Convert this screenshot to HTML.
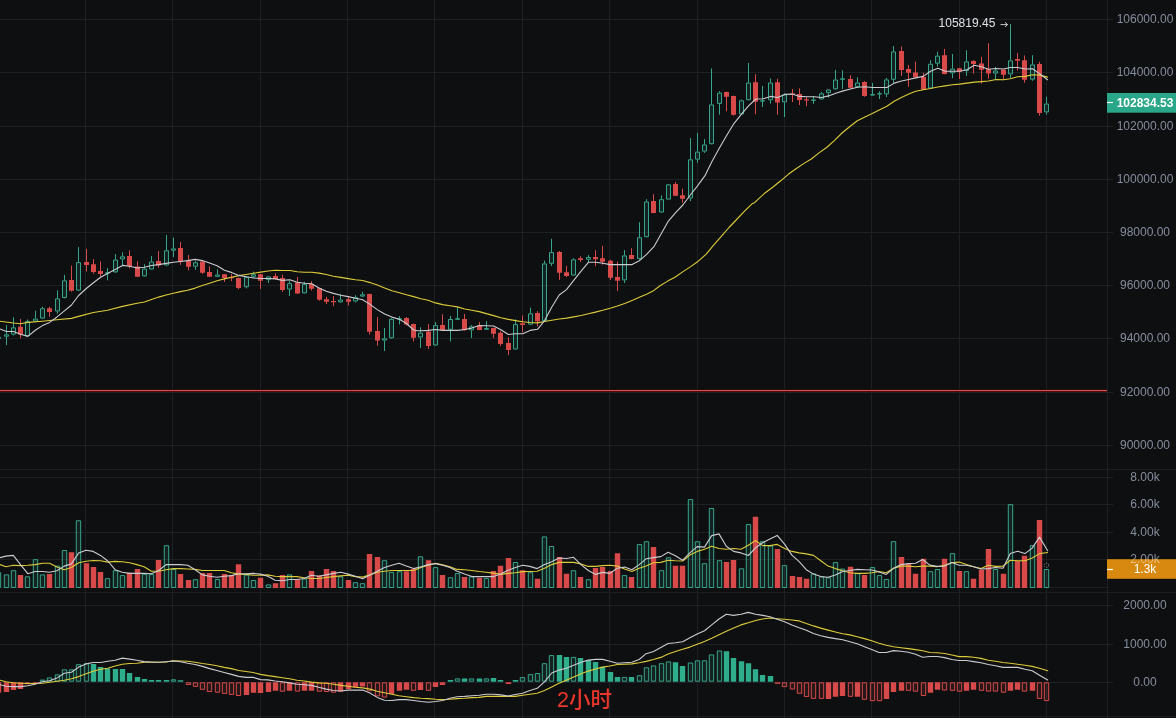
<!DOCTYPE html><html><head><meta charset="utf-8"><title>chart</title><style>
html,body{margin:0;padding:0;background:#0e0f11;overflow:hidden}
svg{display:block}text{font-family:"Liberation Sans","Noto Sans CJK SC",sans-serif}
.ax{font-size:12px;fill:#878d9c;text-anchor:middle}
</style></head><body>
<svg width="1176" height="718" viewBox="0 0 1176 718">
<rect width="1176" height="718" fill="#0e0f11"/>
<path d="M85.5 0V718M172.5 0V718M260.5 0V718M347.5 0V718M434.5 0V718M522.5 0V718M609.5 0V718M697.5 0V718M784.5 0V718M871.5 0V718M959.5 0V718M1046.5 0V718M1107.5 0V718M0 19.5H1113M0 72.5H1113M0 126.5H1113M0 179.5H1113M0 232.5H1113M0 285.5H1113M0 338.5H1113M0 392.5H1113M0 445.5H1113M0 477.5H1113M0 504.5H1113M0 532.5H1113M0 559.5H1113M0 605.5H1113M0 644.5H1113M0 682.5H1113" stroke="#1e2024" stroke-width="1" fill="none"/>
<path d="M0 469.5H1176M0 592.5H1176M0 716.5H1176M0 587.5H1107" stroke="#1c1e22" stroke-width="1" fill="none"/>
<rect x="0" y="389" width="1107" height="1" fill="#2a0b0c"/><rect x="0" y="390" width="1107" height="1" fill="#c9555a"/><rect x="0" y="391" width="1107" height="1" fill="#600808"/>
<path d="M-1.50 336.5V336.8M-1.50 339.0V340.0M6.50 325.1V334.3M6.50 336.7V345.1M13.50 317.2V327.3M13.50 334.6V335.5M27.50 319.5V321.1M27.50 336.0V336.4M35.50 310.6V318.6M35.50 321.6V321.6M42.50 306.8V308.2M42.50 318.6V319.0M57.50 290.3V298.4M57.50 311.5V313.7M64.50 274.9V280.3M64.50 298.1V298.4M78.50 247.1V262.1M78.50 290.6V291.1M107.50 268.0V272.3M107.50 273.7V280.3M115.50 254.1V259.5M115.50 272.3V272.9M122.50 252.3V256.3M122.50 259.5V265.0M144.50 264.2V268.6M144.50 276.4V276.8M151.50 255.9V261.5M151.50 269.5V269.8M166.50 235.0V250.3M166.50 265.5V266.3M173.50 237.6V248.4M173.50 250.7V257.1M195.50 261.1V262.3M195.50 266.7V269.8M217.50 269.3V274.5M217.50 276.8V277.1M246.50 275.9V276.8M246.50 287.2V288.4M253.50 271.6V274.2M253.50 276.8V277.6M268.50 275.9V276.4M268.50 280.3V282.9M289.50 280.9V283.2M289.50 289.6V296.0M304.50 281.8V283.8M304.50 293.4V293.6M340.50 293.9V299.5M340.50 302.3V303.0M355.50 295.2V297.1M355.50 301.4V302.3M362.50 291.7V294.3M362.50 296.6V297.1M384.50 327.9V338.3M384.50 340.6V351.0M391.50 318.0V318.8M391.50 338.3V338.8M399.50 316.2V318.3M399.50 319.7V324.4M420.50 327.3V332.6M420.50 337.4V347.9M435.50 322.0V325.1M435.50 345.5V345.8M450.50 315.9V319.0M450.50 329.8V341.5M457.50 307.2V318.2M457.50 319.7V319.7M471.50 325.0V326.4M471.50 330.4V338.0M486.50 321.1V328.1M486.50 329.8V329.8M515.50 319.4V324.1M515.50 349.5V349.8M530.50 307.7V313.3M530.50 324.6V325.1M544.50 260.6V263.4M544.50 321.1V321.5M551.50 238.8V252.1M551.50 263.7V266.0M573.50 258.2V259.3M573.50 275.5V275.8M588.50 255.1V257.0M588.50 259.7V262.0M624.50 250.1V255.4M624.50 280.4V283.0M639.50 222.2V237.2M639.50 259.0V259.7M646.50 199.2V201.5M646.50 237.2V237.5M661.50 195.4V199.2M661.50 212.5V213.0M668.50 184.0V184.3M668.50 199.6V199.6M690.50 138.0V159.3M690.50 198.5V201.1M697.50 133.0V151.6M697.50 159.8V162.8M704.50 139.1V144.4M704.50 151.6V152.9M711.50 68.4V104.4M711.50 144.3V144.6M719.50 91.1V92.6M719.50 103.9V114.7M741.50 99.5V100.3M741.50 114.4V114.7M748.50 63.0V82.6M748.50 100.3V100.6M762.50 86.0V100.3M762.50 101.3V107.0M770.50 78.4V82.5M770.50 100.3V103.6M784.50 93.4V94.4M784.50 102.4V117.0M813.50 95.9V99.5M813.50 100.5V103.9M821.50 92.1V93.3M821.50 99.5V99.8M828.50 89.0V89.5M828.50 93.2V97.5M835.50 69.9V79.5M835.50 89.3V89.8M842.50 70.3V78.3M842.50 79.8V89.0M857.50 77.2V82.5M857.50 87.0V87.5M872.50 82.9V94.1M872.50 95.6V95.9M879.50 91.3V93.2M879.50 94.4V99.0M886.50 77.9V79.4M886.50 94.4V97.0M893.50 46.1V51.4M893.50 79.8V83.3M930.50 60.2V63.7M930.50 88.5V89.0M937.50 51.7V55.6M937.50 63.7V66.7M952.50 54.0V68.6M952.50 73.3V78.2M966.50 50.2V61.4M966.50 71.0V75.9M995.50 67.0V70.5M995.50 73.6V79.0M1010.50 24.1V60.3M1010.50 74.4V78.2M1032.50 55.2V64.4M1032.50 79.7V80.8M1046.50 96.6V103.5M1046.50 112.4V114.5" stroke="#37a589" stroke-width="1" fill="none"/>
<path d="M-3.50 337.3h4.0v1.2h-4.0zM4.50 334.8h4.0v1.4h-4.0zM11.50 327.8h4.0v6.3h-4.0zM25.50 321.6h4.0v14.0h-4.0zM33.50 319.1h4.0v2.0h-4.0zM40.50 308.7h4.0v9.4h-4.0zM55.50 298.9h4.0v12.1h-4.0zM62.50 280.8h4.0v16.7h-4.0zM76.50 262.6h4.0v27.5h-4.0zM105.50 272.8h4.0v0.4h-4.0zM113.50 260.0h4.0v11.9h-4.0zM120.50 256.8h4.0v2.1h-4.0zM142.50 269.1h4.0v6.8h-4.0zM149.50 262.0h4.0v7.0h-4.0zM164.50 250.8h4.0v14.1h-4.0zM171.50 248.9h4.0v1.3h-4.0zM193.50 262.8h4.0v3.4h-4.0zM215.50 275.0h4.0v1.3h-4.0zM244.50 277.3h4.0v9.4h-4.0zM251.50 274.7h4.0v1.6h-4.0zM266.50 276.9h4.0v2.8h-4.0zM287.50 283.7h4.0v5.4h-4.0zM302.50 284.3h4.0v8.6h-4.0zM338.50 300.0h4.0v1.8h-4.0zM353.50 297.6h4.0v3.4h-4.0zM360.50 294.8h4.0v1.3h-4.0zM382.50 338.8h4.0v1.3h-4.0zM389.50 319.3h4.0v18.5h-4.0zM397.50 318.8h4.0v0.4h-4.0zM418.50 333.1h4.0v3.9h-4.0zM433.50 325.6h4.0v19.4h-4.0zM448.50 319.5h4.0v9.8h-4.0zM455.50 318.7h4.0v0.6h-4.0zM469.50 326.9h4.0v3.0h-4.0zM484.50 328.6h4.0v0.7h-4.0zM513.50 324.6h4.0v24.4h-4.0zM528.50 313.8h4.0v10.3h-4.0zM542.50 263.9h4.0v56.8h-4.0zM549.50 252.6h4.0v10.7h-4.0zM571.50 259.8h4.0v15.2h-4.0zM586.50 257.5h4.0v1.8h-4.0zM622.50 255.9h4.0v24.0h-4.0zM637.50 237.7h4.0v20.8h-4.0zM644.50 202.0h4.0v34.7h-4.0zM659.50 199.7h4.0v12.3h-4.0zM666.50 184.8h4.0v14.3h-4.0zM688.50 159.8h4.0v38.2h-4.0zM695.50 152.1h4.0v7.1h-4.0zM702.50 144.9h4.0v6.2h-4.0zM709.50 104.9h4.0v38.8h-4.0zM717.50 93.1h4.0v10.3h-4.0zM739.50 100.8h4.0v13.1h-4.0zM746.50 83.1h4.0v16.6h-4.0zM760.50 100.8h4.0v0.3h-4.0zM768.50 83.0h4.0v16.8h-4.0zM782.50 94.9h4.0v7.0h-4.0zM811.50 100.0h4.0v0.3h-4.0zM819.50 93.8h4.0v5.1h-4.0zM826.50 90.0h4.0v2.7h-4.0zM833.50 80.0h4.0v8.8h-4.0zM840.50 78.8h4.0v0.5h-4.0zM855.50 83.0h4.0v3.6h-4.0zM870.50 94.6h4.0v0.5h-4.0zM877.50 93.7h4.0v0.3h-4.0zM884.50 79.9h4.0v14.0h-4.0zM891.50 51.9h4.0v27.4h-4.0zM928.50 64.2h4.0v23.8h-4.0zM935.50 56.1h4.0v7.1h-4.0zM950.50 69.1h4.0v3.8h-4.0zM964.50 61.9h4.0v8.7h-4.0zM993.50 71.0h4.0v2.1h-4.0zM1008.50 60.8h4.0v13.1h-4.0zM1030.50 64.9h4.0v14.3h-4.0zM1044.50 104.0h4.0v7.9h-4.0z" stroke="#37a589" stroke-width="1" fill="rgba(55,165,137,0.13)"/>
<path d="M20.50 319.0V338.1M49.50 306.8V316.9M71.50 265.5V291.6M86.50 248.8V271.6M93.50 259.1V273.7M100.50 261.5V276.9M129.50 250.2V268.2M137.50 261.2V276.7M158.50 251.0V267.7M180.50 242.0V264.9M188.50 255.0V270.3M202.50 261.1V273.8M209.50 266.3V277.1M224.50 274.2V282.0M231.50 274.2V281.1M238.50 277.6V289.3M260.50 274.2V289.0M275.50 273.3V279.4M282.50 274.8V291.9M297.50 276.9V293.9M311.50 281.2V290.5M319.50 287.9V300.6M326.50 296.9V304.0M333.50 296.0V306.1M348.50 297.1V305.6M369.50 293.6V334.5M377.50 317.1V345.8M406.50 317.1V325.6M413.50 323.5V341.4M428.50 324.1V349.0M442.50 314.2V330.2M464.50 313.8V330.7M479.50 322.0V330.2M493.50 327.7V338.0M500.50 331.2V346.0M508.50 337.3V355.1M522.50 315.4V332.4M537.50 311.0V326.4M559.50 251.0V279.9M566.50 265.9V277.0M580.50 256.2V262.0M595.50 250.1V266.2M602.50 245.9V264.6M610.50 259.7V280.0M617.50 261.7V291.1M631.50 248.2V259.3M653.50 194.1V213.3M675.50 182.0V196.1M682.50 188.6V202.7M726.50 91.7V111.3M733.50 95.7V115.6M755.50 74.2V114.1M777.50 78.8V114.7M792.50 89.0V102.1M799.50 88.3V105.1M806.50 96.7V106.2M850.50 75.2V88.7M864.50 81.1V96.7M901.50 46.4V75.9M908.50 64.9V86.7M915.50 61.7V77.5M923.50 72.9V90.0M944.50 48.8V74.4M959.50 67.8V79.0M973.50 60.2V73.6M981.50 56.8V83.6M988.50 43.3V78.7M1003.50 69.0V79.3M1017.50 52.9V70.5M1024.50 55.5V82.8M1039.50 61.8V115.7" stroke="#d84a4a" stroke-width="1" fill="none"/>
<path d="M18.00 326.8h5.0v7.8h-5.0zM47.00 308.2h5.0v3.8h-5.0zM69.00 280.0h5.0v10.8h-5.0zM84.00 262.1h5.0v3.0h-5.0zM91.00 264.2h5.0v7.8h-5.0zM98.00 271.1h5.0v3.0h-5.0zM127.00 256.0h5.0v9.9h-5.0zM135.00 266.4h5.0v10.3h-5.0zM156.00 261.1h5.0v4.4h-5.0zM178.00 248.1h5.0v13.4h-5.0zM186.00 260.6h5.0v6.1h-5.0zM200.00 261.6h5.0v11.1h-5.0zM207.00 272.1h5.0v4.7h-5.0zM222.00 274.2h5.0v3.8h-5.0zM229.00 277.0h5.0v1.2h-5.0zM236.00 278.0h5.0v10.1h-5.0zM258.00 274.2h5.0v6.6h-5.0zM273.00 275.9h5.0v3.1h-5.0zM280.00 277.9h5.0v12.0h-5.0zM295.00 282.6h5.0v11.0h-5.0zM309.00 284.0h5.0v4.7h-5.0zM317.00 288.2h5.0v11.5h-5.0zM324.00 299.2h5.0v2.6h-5.0zM331.00 300.9h5.0v1.4h-5.0zM346.00 299.2h5.0v2.6h-5.0zM367.00 293.9h5.0v37.8h-5.0zM375.00 331.0h5.0v9.6h-5.0zM404.00 318.0h5.0v6.4h-5.0zM411.00 324.0h5.0v13.7h-5.0zM426.00 331.6h5.0v14.4h-5.0zM440.00 325.0h5.0v4.9h-5.0zM462.00 319.0h5.0v11.3h-5.0zM477.00 325.5h5.0v4.4h-5.0zM491.00 328.1h5.0v5.7h-5.0zM498.00 332.8h5.0v11.3h-5.0zM506.00 342.9h5.0v7.0h-5.0zM520.00 323.2h5.0v1.7h-5.0zM535.00 313.0h5.0v8.2h-5.0zM557.00 251.9h5.0v20.9h-5.0zM564.00 272.3h5.0v3.8h-5.0zM578.00 258.2h5.0v1.8h-5.0zM593.00 257.1h5.0v2.1h-5.0zM600.00 258.2h5.0v3.5h-5.0zM608.00 260.8h5.0v17.0h-5.0zM615.00 277.0h5.0v3.7h-5.0zM629.00 255.1h5.0v3.8h-5.0zM651.00 201.0h5.0v12.0h-5.0zM673.00 184.0h5.0v11.8h-5.0zM680.00 195.3h5.0v3.5h-5.0zM724.00 92.1h5.0v4.6h-5.0zM731.00 96.0h5.0v18.7h-5.0zM753.00 82.2h5.0v19.5h-5.0zM775.00 82.2h5.0v20.4h-5.0zM790.00 93.6h5.0v1.2h-5.0zM797.00 94.1h5.0v6.0h-5.0zM804.00 99.3h5.0v1.2h-5.0zM848.00 79.1h5.0v8.7h-5.0zM862.00 82.1h5.0v13.8h-5.0zM899.00 51.0h5.0v18.9h-5.0zM906.00 69.0h5.0v3.8h-5.0zM913.00 72.4h5.0v4.8h-5.0zM921.00 77.0h5.0v12.7h-5.0zM942.00 55.2h5.0v18.7h-5.0zM957.00 68.3h5.0v3.4h-5.0zM971.00 61.1h5.0v2.9h-5.0zM979.00 63.4h5.0v6.4h-5.0zM986.00 69.3h5.0v4.3h-5.0zM1001.00 69.8h5.0v4.9h-5.0zM1015.00 59.0h5.0v1.8h-5.0zM1022.00 60.3h5.0v19.5h-5.0zM1037.00 63.9h5.0v49.0h-5.0z" fill="#d84a4a"/>
<path d="M0.0 321.2L13.6 323.0L20.5 323.7L27.8 322.4L42.5 321.2L56.7 319.8L71.5 318.4L78.6 316.4L93.4 312.5L107.5 310.3L122.5 306.4L137.1 303.3L144.4 302.0L151.5 299.4L158.6 297.1L166.1 295.0L173.4 293.3L180.5 291.6L187.5 290.3L195.2 288.1L202.3 285.5L209.6 283.2L217.1 280.8L224.4 278.9L231.4 277.3L238.8 275.6L246.1 274.5L253.5 273.3L260.6 272.1L268.1 271.0L275.4 270.3L282.6 270.5L289.9 270.5L297.2 271.7L304.5 272.2L311.7 272.2L319.0 273.1L326.3 274.5L333.4 276.2L340.7 277.4L348.2 278.6L355.5 279.7L362.7 280.5L370.0 282.6L377.3 284.9L384.6 287.9L391.9 290.8L399.4 292.7L406.5 294.8L413.6 296.6L420.9 298.8L428.2 300.3L435.5 302.9L442.6 304.6L450.1 305.8L457.4 306.9L464.7 309.0L471.7 310.3L479.2 311.6L486.3 313.6L493.6 315.6L500.9 317.7L508.4 319.4L515.5 320.6L522.7 321.7L530.1 322.5L537.5 322.9L544.6 321.5L551.7 320.3L559.2 319.0L566.5 318.1L573.7 316.9L581.1 315.5L588.4 313.8L595.5 312.1L602.8 310.3L610.2 308.3L617.4 306.0L624.7 303.4L633.2 300.0L639.3 297.3L646.6 294.2L653.9 290.4L660.0 285.7L667.7 281.1L675.3 277.0L683.0 271.6L690.7 266.6L698.3 261.2L706.0 254.3L713.6 245.1L721.3 236.4L729.0 227.5L736.6 219.5L744.3 211.4L752.0 203.8L754.6 202.7L757.7 199.6L765.3 192.7L773.0 187.0L780.7 180.8L788.3 174.3L796.0 168.7L803.6 163.6L811.3 159.0L819.0 152.9L826.6 147.5L834.3 140.6L842.0 133.0L849.6 126.8L857.3 120.7L864.9 116.9L872.3 113.6L879.7 109.7L886.9 106.2L894.2 101.3L901.4 97.5L908.8 94.1L915.7 91.3L923.3 89.7L930.5 88.5L937.8 87.0L945.2 85.9L952.4 84.8L959.7 84.1L966.9 83.1L974.3 82.1L981.5 81.6L988.5 81.0L996.2 79.5L1003.5 79.7L1010.4 78.7L1017.6 76.7L1025.2 76.4L1032.5 74.7L1039.5 75.1L1047.5 77.1" stroke="#dccb3a" stroke-width="1.1" fill="none" stroke-linejoin="round" stroke-linecap="round"/>
<path d="M0.0 328.9L6.4 331.5L13.6 331.5L20.5 334.3L27.8 336.4L35.3 330.3L42.5 325.6L49.6 322.4L56.7 317.2L64.4 310.8L71.5 305.0L78.6 295.5L86.3 288.5L93.4 282.8L100.6 277.2L107.5 273.4L115.2 269.4L122.5 265.4L129.5 266.2L137.1 268.0L144.4 267.2L151.5 265.5L158.6 264.6L166.1 263.4L173.4 262.3L180.5 261.5L187.5 260.6L195.2 259.4L202.3 260.6L209.6 262.9L217.1 265.8L224.4 270.3L231.4 272.4L238.8 275.4L246.1 276.8L253.5 278.0L260.6 278.5L268.1 278.5L275.4 278.9L282.6 280.4L289.9 279.7L297.2 282.3L304.5 283.2L311.7 283.8L319.0 287.9L326.3 291.3L333.4 293.4L340.7 295.2L348.2 296.6L355.5 298.3L362.7 299.7L370.0 304.4L377.3 309.6L384.6 314.0L391.9 317.1L399.4 319.2L406.5 323.5L413.6 330.0L417.5 330.8L420.9 330.7L428.2 330.4L435.5 329.5L442.6 330.4L450.1 330.4L457.4 330.4L464.7 329.5L471.7 328.1L479.2 325.5L486.3 325.8L493.6 326.0L500.9 329.8L508.4 334.5L515.5 333.7L522.7 333.7L530.1 330.4L537.5 329.3L544.6 320.6L551.7 307.2L559.2 295.0L566.5 289.6L573.7 280.4L581.1 271.2L588.4 262.3L595.5 262.3L602.8 263.3L610.2 264.6L617.4 264.6L624.7 264.6L632.1 264.6L639.3 260.8L646.6 254.4L653.9 246.7L661.2 233.7L668.4 221.1L675.6 212.6L682.9 205.0L690.3 195.0L697.5 185.8L704.8 175.9L712.2 161.1L719.4 148.1L726.5 135.8L734.1 123.3L741.3 114.4L748.5 105.9L755.9 99.0L763.3 98.7L770.5 96.4L777.7 97.5L784.7 94.4L792.4 94.1L799.5 96.4L806.6 96.7L814.2 96.7L821.4 97.5L828.6 95.9L835.7 93.2L843.2 90.9L850.5 89.0L857.4 87.2L865.1 86.7L872.3 87.5L879.7 87.5L886.9 87.5L894.3 83.1L901.5 81.0L908.7 79.5L915.7 77.9L923.3 76.4L930.5 71.3L937.8 68.3L945.2 71.3L952.4 71.3L959.7 71.3L966.9 69.8L974.3 65.2L981.5 66.7L988.5 69.3L996.1 68.5L1003.5 69.0L1010.4 67.5L1017.6 67.5L1025.2 69.0L1032.5 68.7L1039.5 73.6L1047.5 79.7" stroke="#cbcbd0" stroke-width="1.1" fill="none" stroke-linejoin="round" stroke-linecap="round"/>
<path d="M-3.70 572.7h4.4V587.5h-4.4zM4.30 574.9h4.4V587.5h-4.4zM11.30 570.7h4.4V587.5h-4.4zM25.30 576.8h4.4V587.5h-4.4zM33.30 559.7h4.4V587.5h-4.4zM40.30 574.9h4.4V587.5h-4.4zM55.30 566.1h4.4V587.5h-4.4zM62.30 550.5h4.4V587.5h-4.4zM76.30 520.8h4.4V587.5h-4.4zM105.30 578.7h4.4V587.5h-4.4zM113.30 570.7h4.4V587.5h-4.4zM120.30 575.6h4.4V587.5h-4.4zM142.30 574.3h4.4V587.5h-4.4zM149.30 574.6h4.4V587.5h-4.4zM164.30 545.7h4.4V587.5h-4.4zM171.30 569.5h4.4V587.5h-4.4zM193.30 579.7h4.4V587.5h-4.4zM215.30 579.5h4.4V587.5h-4.4zM244.30 575.1h4.4V587.5h-4.4zM251.30 580.5h4.4V587.5h-4.4zM266.30 584.9h4.4V587.5h-4.4zM287.30 574.9h4.4V587.5h-4.4zM302.30 579.0h4.4V587.5h-4.4zM338.30 576.8h4.4V587.5h-4.4zM353.30 582.7h4.4V587.5h-4.4zM360.30 583.7h4.4V587.5h-4.4zM382.30 560.7h4.4V587.5h-4.4zM389.30 572.4h4.4V587.5h-4.4zM397.30 571.7h4.4V587.5h-4.4zM418.30 556.8h4.4V587.5h-4.4zM433.30 567.6h4.4V587.5h-4.4zM448.30 577.8h4.4V587.5h-4.4zM455.30 573.6h4.4V587.5h-4.4zM469.30 576.8h4.4V587.5h-4.4zM484.30 578.6h4.4V587.5h-4.4zM513.30 562.5h4.4V587.5h-4.4zM528.30 572.7h4.4V587.5h-4.4zM542.30 536.9h4.4V587.5h-4.4zM549.30 546.5h4.4V587.5h-4.4zM571.30 570.7h4.4V587.5h-4.4zM586.30 579.7h4.4V587.5h-4.4zM622.30 575.6h4.4V587.5h-4.4zM637.30 544.6h4.4V587.5h-4.4zM644.30 541.7h4.4V587.5h-4.4zM659.30 570.7h4.4V587.5h-4.4zM666.30 557.8h4.4V587.5h-4.4zM688.30 499.6h4.4V587.5h-4.4zM695.30 541.7h4.4V587.5h-4.4zM702.30 563.7h4.4V587.5h-4.4zM709.30 508.5h4.4V587.5h-4.4zM717.30 560.7h4.4V587.5h-4.4zM739.30 568.8h4.4V587.5h-4.4zM746.30 524.6h4.4V587.5h-4.4zM760.30 541.7h4.4V587.5h-4.4zM768.30 546.1h4.4V587.5h-4.4zM782.30 565.6h4.4V587.5h-4.4zM811.30 573.9h4.4V587.5h-4.4zM819.30 576.8h4.4V587.5h-4.4zM826.30 577.8h4.4V587.5h-4.4zM833.30 562.6h4.4V587.5h-4.4zM840.30 569.1h4.4V587.5h-4.4zM855.30 573.6h4.4V587.5h-4.4zM870.30 567.6h4.4V587.5h-4.4zM877.30 575.6h4.4V587.5h-4.4zM884.30 579.5h4.4V587.5h-4.4zM891.30 541.7h4.4V587.5h-4.4zM928.30 571.7h4.4V587.5h-4.4zM935.30 569.5h4.4V587.5h-4.4zM950.30 553.7h4.4V587.5h-4.4zM964.30 571.7h4.4V587.5h-4.4zM993.30 569.5h4.4V587.5h-4.4zM1008.30 504.7h4.4V587.5h-4.4zM1030.30 545.7h4.4V587.5h-4.4zM1044.30 569.5h4.4V587.5h-4.4z" stroke="#37a589" stroke-width="1" fill="rgba(55,165,137,0.13)"/>
<path d="M17.80 575.1h5.4V588.0h-5.4zM46.80 574.1h5.4V588.0h-5.4zM68.80 552.2h5.4V588.0h-5.4zM83.80 563.2h5.4V588.0h-5.4zM90.80 567.1h5.4V588.0h-5.4zM97.80 571.9h5.4V588.0h-5.4zM126.80 572.7h5.4V588.0h-5.4zM134.80 569.0h5.4V588.0h-5.4zM155.80 559.9h5.4V588.0h-5.4zM177.80 574.1h5.4V588.0h-5.4zM185.80 580.0h5.4V588.0h-5.4zM199.80 573.1h5.4V588.0h-5.4zM206.80 573.1h5.4V588.0h-5.4zM221.80 574.1h5.4V588.0h-5.4zM228.80 574.9h5.4V588.0h-5.4zM235.80 564.2h5.4V588.0h-5.4zM257.80 577.8h5.4V588.0h-5.4zM272.80 583.2h5.4V588.0h-5.4zM279.80 574.9h5.4V588.0h-5.4zM294.80 579.5h5.4V588.0h-5.4zM308.80 570.9h5.4V588.0h-5.4zM316.80 575.6h5.4V588.0h-5.4zM323.80 569.0h5.4V588.0h-5.4zM330.80 570.9h5.4V588.0h-5.4zM345.80 580.0h5.4V588.0h-5.4zM366.80 553.9h5.4V588.0h-5.4zM374.80 557.0h5.4V588.0h-5.4zM403.80 571.2h5.4V588.0h-5.4zM410.80 569.0h5.4V588.0h-5.4zM425.80 560.2h5.4V588.0h-5.4zM439.80 574.9h5.4V588.0h-5.4zM461.80 577.1h5.4V588.0h-5.4zM476.80 577.8h5.4V588.0h-5.4zM490.80 570.9h5.4V588.0h-5.4zM497.80 565.8h5.4V588.0h-5.4zM505.80 558.0h5.4V588.0h-5.4zM519.80 570.2h5.4V588.0h-5.4zM534.80 578.8h5.4V588.0h-5.4zM556.80 556.9h5.4V588.0h-5.4zM563.80 573.8h5.4V588.0h-5.4zM577.80 577.1h5.4V588.0h-5.4zM592.80 568.0h5.4V588.0h-5.4zM599.80 567.1h5.4V588.0h-5.4zM607.80 570.9h5.4V588.0h-5.4zM614.80 553.2h5.4V588.0h-5.4zM628.80 577.1h5.4V588.0h-5.4zM650.80 547.1h5.4V588.0h-5.4zM672.80 565.8h5.4V588.0h-5.4zM679.80 565.8h5.4V588.0h-5.4zM723.80 562.0h5.4V588.0h-5.4zM730.80 559.9h5.4V588.0h-5.4zM752.80 516.8h5.4V588.0h-5.4zM774.80 549.0h5.4V588.0h-5.4zM789.80 575.9h5.4V588.0h-5.4zM796.80 577.1h5.4V588.0h-5.4zM803.80 578.8h5.4V588.0h-5.4zM847.80 566.8h5.4V588.0h-5.4zM861.80 574.9h5.4V588.0h-5.4zM898.80 557.0h5.4V588.0h-5.4zM905.80 563.9h5.4V588.0h-5.4zM912.80 573.8h5.4V588.0h-5.4zM920.80 558.8h5.4V588.0h-5.4zM941.80 558.8h5.4V588.0h-5.4zM956.80 570.9h5.4V588.0h-5.4zM970.80 578.8h5.4V588.0h-5.4zM978.80 569.7h5.4V588.0h-5.4zM985.80 549.0h5.4V588.0h-5.4zM1000.80 573.8h5.4V588.0h-5.4zM1014.80 561.0h5.4V588.0h-5.4zM1021.80 555.8h5.4V588.0h-5.4zM1036.80 520.0h5.4V588.0h-5.4z" fill="#d84a4a"/>
<path d="M0.0 564.6L6.0 566.8L13.3 565.3L20.5 565.6L27.8 565.3L35.1 564.6L42.4 563.2L49.6 563.2L56.9 567.1L64.2 569.7L71.4 567.5L78.7 562.7L86.0 561.3L93.2 560.5L100.5 560.7L107.8 562.1L115.1 561.4L122.3 561.7L129.6 562.7L136.9 564.6L144.1 566.8L151.4 571.2L158.7 571.2L166.0 569.7L173.3 568.6L180.5 568.6L187.8 569.0L195.1 569.4L202.4 570.5L209.6 570.5L216.9 570.5L224.2 570.5L231.4 572.7L238.7 574.1L246.0 574.4L253.2 575.3L260.5 575.3L267.8 574.9L275.1 576.3L282.3 576.6L289.6 576.6L296.9 576.6L304.1 577.8L311.4 578.5L318.7 578.5L326.1 577.5L333.5 576.6L340.8 575.9L348.1 575.3L355.4 576.6L362.7 577.1L369.9 574.9L377.2 572.2L384.5 571.2L391.7 570.5L399.0 570.5L406.3 570.5L413.6 570.5L421.0 567.5L428.3 565.3L435.6 563.2L442.6 564.9L449.9 566.8L457.2 569.4L464.6 569.7L471.9 570.5L479.2 571.5L486.1 572.2L493.5 573.1L500.8 574.4L508.1 573.4L515.4 572.7L522.7 571.6L529.9 571.5L537.2 571.2L544.5 568.3L551.7 564.6L559.0 562.4L566.3 562.4L573.6 562.4L581.0 563.9L588.3 566.4L595.6 566.4L602.6 565.6L609.9 565.3L617.2 566.1L624.6 569.0L631.9 571.5L639.2 568.3L646.1 566.1L653.5 562.7L660.8 562.4L668.1 560.2L675.4 560.7L682.7 561.0L689.9 555.1L697.2 551.4L704.5 549.3L711.7 546.3L719.0 548.5L726.3 549.3L733.6 548.5L741.0 549.3L748.3 545.3L755.6 540.5L762.6 545.6L769.9 545.6L777.2 544.4L784.6 548.5L791.9 551.4L799.2 552.9L806.3 553.9L813.5 555.4L820.8 560.7L828.1 566.1L835.4 568.6L842.7 570.8L849.9 572.7L857.2 573.4L864.5 573.4L871.7 572.7L879.0 571.5L886.3 572.7L893.6 568.3L901.0 566.1L908.3 566.1L915.6 566.8L922.6 566.1L929.9 566.1L937.2 566.8L944.6 565.3L951.9 562.7L959.1 562.1L966.4 564.6L973.7 566.8L981.0 568.6L988.3 565.3L995.6 566.4L1003.0 566.1L1010.3 560.2L1017.6 560.7L1024.9 560.7L1032.2 558.0L1039.5 553.6L1047.7 552.5" stroke="#dccb3a" stroke-width="1.1" fill="none" stroke-linejoin="round" stroke-linecap="round"/>
<path d="M0.0 557.6L6.0 556.1L13.3 555.4L20.5 564.6L27.8 573.7L35.1 571.5L42.4 571.5L49.6 572.2L56.9 570.8L64.2 566.1L71.4 563.9L78.7 552.9L86.0 550.3L93.2 551.4L100.5 555.4L107.8 561.0L115.1 569.7L122.3 572.2L129.6 573.4L136.9 573.4L144.1 573.4L151.4 573.7L158.7 570.5L166.0 564.6L173.3 564.6L180.5 564.6L187.8 565.3L195.1 569.7L202.4 574.9L209.6 576.3L216.9 577.3L224.2 576.3L231.4 575.6L238.7 573.7L246.0 573.7L253.2 573.4L260.5 574.1L267.8 576.3L275.1 580.3L282.3 580.7L289.6 579.5L296.9 579.5L304.1 578.5L311.4 575.3L318.7 576.3L326.1 574.9L333.5 573.4L340.8 572.2L348.1 574.1L355.4 576.3L362.7 578.8L369.9 574.9L377.2 571.2L384.5 567.5L391.7 565.3L399.0 563.2L406.3 566.1L413.6 568.6L421.0 566.8L428.3 564.6L435.6 563.6L442.6 565.3L449.9 567.5L457.2 571.2L464.6 574.1L471.9 576.6L479.2 576.6L486.1 576.6L493.5 576.6L500.8 574.1L508.1 570.2L515.4 567.5L522.7 565.3L529.9 566.4L537.2 568.6L544.5 564.6L551.7 561.7L559.0 558.0L566.3 558.5L573.6 557.3L581.0 564.6L588.3 570.5L595.6 574.4L602.6 572.4L609.9 573.4L617.2 568.3L624.6 567.1L631.9 569.7L639.2 564.6L646.1 558.8L653.5 557.6L660.8 556.6L668.1 552.2L675.4 555.8L682.7 560.2L689.9 552.9L697.2 546.6L704.5 547.1L711.7 535.6L719.0 533.9L726.3 546.3L733.6 551.4L741.0 552.9L748.3 555.5L755.6 547.8L762.6 542.7L769.9 539.0L777.2 535.4L784.6 544.1L791.9 555.1L799.2 561.7L806.3 569.7L813.5 574.1L820.8 576.6L828.1 577.3L835.4 574.9L842.7 571.5L849.9 570.5L857.2 569.4L864.5 569.7L871.7 570.0L879.0 571.9L886.3 574.4L893.6 568.3L901.0 564.6L908.3 563.6L915.6 563.2L922.6 559.5L929.9 565.1L937.2 566.4L944.6 566.1L951.9 562.4L959.1 565.3L966.4 565.3L973.7 566.8L981.0 569.0L988.3 568.6L995.6 567.5L1003.0 568.3L1010.3 553.6L1017.6 551.2L1024.9 553.6L1032.2 548.1L1039.5 537.1L1047.7 550.7" stroke="#cbcbd0" stroke-width="1.1" fill="none" stroke-linejoin="round" stroke-linecap="round"/>
<circle cx="1046.5" cy="565.3" r="2.2" fill="none" stroke="#8a8d92" stroke-width="0.8" stroke-dasharray="1.2 1"/>
<path d="M90.80 663.9h5.4V681.7h-5.4zM97.80 667.1h5.4V681.7h-5.4zM104.80 668.6h5.4V681.7h-5.4zM112.80 669.0h5.4V681.7h-5.4zM119.80 669.0h5.4V681.7h-5.4zM126.80 673.0h5.4V681.7h-5.4zM134.80 676.9h5.4V681.7h-5.4zM141.80 679.1h5.4V681.7h-5.4zM148.80 680.0h5.4V681.7h-5.4zM155.80 680.0h5.4V681.7h-5.4zM163.80 680.0h5.4V681.7h-5.4zM177.80 680.3h5.4V681.7h-5.4zM447.80 680.0h5.4V681.7h-5.4zM461.80 678.4h5.4V681.7h-5.4zM476.80 678.4h5.4V681.7h-5.4zM490.80 678.1h5.4V681.7h-5.4zM497.80 680.0h5.4V681.7h-5.4zM512.80 680.0h5.4V681.7h-5.4zM556.80 655.1h5.4V681.7h-5.4zM563.80 656.9h5.4V681.7h-5.4zM577.80 658.1h5.4V681.7h-5.4zM585.80 660.1h5.4V681.7h-5.4zM592.80 662.0h5.4V681.7h-5.4zM599.80 666.7h5.4V681.7h-5.4zM607.80 672.0h5.4V681.7h-5.4zM614.80 676.9h5.4V681.7h-5.4zM628.80 676.9h5.4V681.7h-5.4zM672.80 662.2h5.4V681.7h-5.4zM679.80 666.1h5.4V681.7h-5.4zM723.80 651.2h5.4V681.7h-5.4zM730.80 658.1h5.4V681.7h-5.4zM738.80 661.2h5.4V681.7h-5.4zM745.80 663.2h5.4V681.7h-5.4zM752.80 669.2h5.4V681.7h-5.4zM759.80 675.1h5.4V681.7h-5.4zM767.80 676.1h5.4V681.7h-5.4z" fill="#2fae8c"/>
<path d="M40.30 680.1h4.4V681.2h-4.4zM47.30 677.9h4.4V681.2h-4.4zM55.30 674.9h4.4V681.2h-4.4zM62.30 669.8h4.4V681.2h-4.4zM69.30 669.8h4.4V681.2h-4.4zM76.30 664.7h4.4V681.2h-4.4zM84.30 663.7h4.4V681.2h-4.4zM171.30 679.8h4.4V681.2h-4.4zM455.30 678.9h4.4V681.2h-4.4zM469.30 678.9h4.4V681.2h-4.4zM484.30 678.9h4.4V681.2h-4.4zM520.30 677.6h4.4V681.2h-4.4zM528.30 674.7h4.4V681.2h-4.4zM535.30 673.5h4.4V681.2h-4.4zM542.30 663.7h4.4V681.2h-4.4zM549.30 655.6h4.4V681.2h-4.4zM571.30 657.4h4.4V681.2h-4.4zM622.30 677.4h4.4V681.2h-4.4zM637.30 675.7h4.4V681.2h-4.4zM644.30 667.8h4.4V681.2h-4.4zM651.30 665.9h4.4V681.2h-4.4zM659.30 663.7h4.4V681.2h-4.4zM666.30 661.9h4.4V681.2h-4.4zM688.30 663.0h4.4V681.2h-4.4zM695.30 660.8h4.4V681.2h-4.4zM702.30 660.8h4.4V681.2h-4.4zM709.30 654.9h4.4V681.2h-4.4zM717.30 651.0h4.4V681.2h-4.4z" stroke="#37a589" stroke-width="1" fill="rgba(55,165,137,0.13)"/>
<path d="M-4.20 682.3h5.4V692.7h-5.4zM3.80 682.3h5.4V692.0h-5.4zM10.80 682.3h5.4V690.1h-5.4zM17.80 682.3h5.4V689.1h-5.4zM32.80 682.3h5.4V683.5h-5.4zM243.80 682.3h5.4V694.9h-5.4zM250.80 682.3h5.4V692.7h-5.4zM257.80 682.3h5.4V693.0h-5.4zM265.80 682.3h5.4V692.0h-5.4zM272.80 682.3h5.4V690.8h-5.4zM286.80 682.3h5.4V690.8h-5.4zM301.80 682.3h5.4V690.8h-5.4zM308.80 682.3h5.4V690.8h-5.4zM337.80 682.3h5.4V691.7h-5.4zM345.80 682.3h5.4V689.1h-5.4zM352.80 682.3h5.4V687.6h-5.4zM359.80 682.3h5.4V686.6h-5.4zM388.80 682.3h5.4V693.9h-5.4zM396.80 682.3h5.4V690.8h-5.4zM403.80 682.3h5.4V689.8h-5.4zM417.80 682.3h5.4V690.1h-5.4zM432.80 682.3h5.4V686.9h-5.4zM439.80 682.3h5.4V685.0h-5.4zM505.80 682.3h5.4V684.0h-5.4zM774.80 682.3h5.4V683.8h-5.4zM825.80 682.3h5.4V698.9h-5.4zM832.80 682.3h5.4V696.8h-5.4zM839.80 682.3h5.4V696.0h-5.4zM854.80 682.3h5.4V696.8h-5.4zM883.80 682.3h5.4V699.0h-5.4zM890.80 682.3h5.4V692.0h-5.4zM898.80 682.3h5.4V690.8h-5.4zM927.80 682.3h5.4V692.7h-5.4zM934.80 682.3h5.4V689.8h-5.4zM963.80 682.3h5.4V690.8h-5.4zM970.80 682.3h5.4V689.8h-5.4zM1007.80 682.3h5.4V690.8h-5.4zM1014.80 682.3h5.4V689.8h-5.4zM1029.80 682.3h5.4V690.8h-5.4z" fill="#d84a4a"/>
<path d="M25.30 682.8h4.4V683.8h-4.4zM186.30 682.8h4.4V684.5h-4.4zM193.30 682.8h4.4V686.4h-4.4zM200.30 682.8h4.4V689.3h-4.4zM207.30 682.8h4.4V691.5h-4.4zM215.30 682.8h4.4V692.2h-4.4zM222.30 682.8h4.4V693.4h-4.4zM229.30 682.8h4.4V694.4h-4.4zM236.30 682.8h4.4V695.5h-4.4zM280.30 682.8h4.4V691.2h-4.4zM295.30 682.8h4.4V691.1h-4.4zM317.30 682.8h4.4V691.2h-4.4zM324.30 682.8h4.4V691.5h-4.4zM331.30 682.8h4.4V692.2h-4.4zM367.30 682.8h4.4V690.8h-4.4zM375.30 682.8h4.4V695.9h-4.4zM382.30 682.8h4.4V697.1h-4.4zM411.30 682.8h4.4V690.3h-4.4zM426.30 682.8h4.4V690.3h-4.4zM782.30 682.8h4.4V686.6h-4.4zM790.30 682.8h4.4V689.0h-4.4zM797.30 682.8h4.4V693.3h-4.4zM804.30 682.8h4.4V696.6h-4.4zM811.30 682.8h4.4V698.4h-4.4zM819.30 682.8h4.4V698.4h-4.4zM848.30 682.8h4.4V696.3h-4.4zM862.30 682.8h4.4V699.3h-4.4zM870.30 682.8h4.4V700.7h-4.4zM877.30 682.8h4.4V700.7h-4.4zM906.30 682.8h4.4V690.3h-4.4zM913.30 682.8h4.4V691.2h-4.4zM921.30 682.8h4.4V695.5h-4.4zM942.30 682.8h4.4V690.0h-4.4zM950.30 682.8h4.4V690.3h-4.4zM957.30 682.8h4.4V691.2h-4.4zM979.30 682.8h4.4V690.3h-4.4zM986.30 682.8h4.4V691.1h-4.4zM993.30 682.8h4.4V691.1h-4.4zM1001.30 682.8h4.4V692.2h-4.4zM1022.30 682.8h4.4V691.1h-4.4zM1037.30 682.8h4.4V698.4h-4.4zM1044.30 682.8h4.4V700.6h-4.4z" stroke="#d84a4a" stroke-width="1" fill="rgba(216,74,74,0.13)"/>
<path d="M0.0 680.3L6.0 681.8L13.3 682.8L20.5 683.2L27.8 683.5L35.1 683.5L42.4 683.2L49.6 682.2L56.9 681.3L64.2 680.3L71.4 678.8L78.7 676.6L86.0 673.7L93.2 671.2L100.5 669.3L107.8 668.3L115.1 666.0L122.3 664.2L129.6 663.5L136.9 663.2L144.1 662.3L151.4 662.3L158.7 662.3L166.0 662.0L173.3 660.8L180.5 661.0L187.8 661.3L195.1 662.3L202.4 663.5L209.6 664.5L216.9 665.7L224.2 667.4L231.4 668.6L238.7 670.5L246.0 671.5L253.2 672.5L260.5 674.4L267.8 675.6L275.1 676.6L282.3 677.7L289.6 678.8L296.9 680.3L304.1 681.0L311.4 682.1L318.7 682.9L326.1 683.2L333.5 684.3L340.8 685.4L348.1 686.2L355.4 687.2L362.7 687.9L369.9 689.1L377.2 691.3L384.5 692.7L391.7 694.2L399.0 695.7L406.3 696.7L413.6 697.6L421.0 698.3L428.3 698.6L435.6 699.3L442.6 699.6L449.9 699.3L457.2 698.6L464.6 698.3L471.9 697.6L479.2 697.4L486.1 696.4L493.5 696.4L500.8 696.4L508.1 696.4L515.4 696.4L522.7 695.2L529.9 694.2L537.2 693.2L544.5 690.5L551.7 686.9L559.0 683.2L566.3 680.3L573.6 676.9L581.0 673.7L588.3 671.1L595.6 669.0L602.6 667.1L609.9 666.0L617.2 664.5L624.6 664.2L631.9 663.9L639.2 662.7L646.1 661.4L653.5 659.5L660.8 657.4L668.1 654.1L675.4 651.5L682.7 649.3L689.9 647.1L697.2 644.3L704.5 641.4L711.7 638.3L719.0 634.7L726.3 631.2L733.6 628.1L741.0 624.9L748.3 622.7L755.6 620.5L762.6 619.0L769.9 618.0L777.2 618.7L784.6 619.3L791.9 620.0L799.2 620.9L806.3 623.5L813.5 625.9L820.8 628.1L828.1 630.1L835.4 632.0L842.7 633.8L849.9 634.9L857.2 636.7L864.5 638.6L871.7 640.8L879.0 643.3L886.3 645.2L893.6 646.7L901.0 647.7L908.3 648.6L915.6 649.6L922.6 650.7L929.9 652.5L937.2 652.8L944.6 653.5L951.9 655.0L959.1 656.6L966.4 656.6L973.7 657.3L981.0 658.4L988.3 660.3L995.6 661.3L1003.0 662.5L1010.3 663.2L1017.6 664.2L1024.9 665.2L1032.2 666.4L1039.5 668.3L1047.7 670.8" stroke="#dccb3a" stroke-width="1.1" fill="none" stroke-linejoin="round" stroke-linecap="round"/>
<path d="M0.0 684.7L6.0 686.2L13.3 686.6L20.5 686.6L27.8 685.7L35.1 684.3L42.4 681.8L49.6 680.7L56.9 678.1L64.2 673.3L71.4 672.3L78.7 667.1L86.0 663.9L93.2 662.5L100.5 662.5L107.8 661.3L115.1 660.3L122.3 658.1L129.6 659.1L136.9 660.3L144.1 661.6L151.4 662.0L158.7 662.3L166.0 661.7L173.3 661.0L180.5 661.7L187.8 663.2L195.1 664.5L202.4 666.4L209.6 668.6L216.9 670.5L224.2 672.5L231.4 674.4L238.7 676.4L246.0 677.4L253.2 677.4L260.5 679.6L267.8 679.9L275.1 681.0L282.3 681.8L289.6 682.9L296.9 684.3L304.1 684.7L311.4 685.4L318.7 687.2L326.1 689.1L333.5 690.5L340.8 691.0L348.1 690.1L355.4 690.1L362.7 690.1L369.9 693.0L377.2 697.4L384.5 700.3L391.7 700.5L399.0 699.6L406.3 699.6L413.6 700.5L421.0 701.5L428.3 702.2L435.6 701.5L442.6 700.5L449.9 698.3L457.2 696.7L464.6 696.4L471.9 695.7L479.2 695.2L486.1 694.2L493.5 694.2L500.8 694.9L508.1 696.0L515.4 694.5L522.7 693.2L529.9 690.5L537.2 688.3L544.5 681.8L551.7 673.0L559.0 670.1L566.3 668.2L573.6 665.2L581.0 662.3L588.3 660.1L595.6 659.4L602.6 659.4L609.9 661.3L617.2 663.2L624.6 662.7L631.9 662.3L639.2 659.5L646.1 653.7L653.5 651.5L660.8 647.5L668.1 643.5L675.4 642.7L682.7 641.7L689.9 637.7L697.2 633.9L704.5 630.7L711.7 624.9L719.0 619.0L726.3 614.3L733.6 615.4L741.0 614.2L748.3 612.4L755.6 614.3L762.6 615.4L769.9 616.8L777.2 619.3L784.6 621.7L791.9 624.9L799.2 627.8L806.3 630.3L813.5 633.5L820.8 635.7L828.1 637.4L835.4 638.6L842.7 639.8L849.9 641.8L857.2 643.7L864.5 646.7L871.7 649.6L879.0 652.5L886.3 652.5L893.6 650.6L901.0 651.3L908.3 652.2L915.6 654.3L922.6 657.3L929.9 656.5L937.2 656.5L944.6 657.6L951.9 659.5L959.1 660.5L966.4 660.5L973.7 661.6L981.0 662.7L988.3 664.5L995.6 665.7L1003.0 667.4L1010.3 667.4L1017.6 667.4L1024.9 669.3L1032.2 670.8L1039.5 675.2L1047.7 679.9" stroke="#cbcbd0" stroke-width="1.1" fill="none" stroke-linejoin="round" stroke-linecap="round"/>
<text class="ax" x="1145" y="23.0">106000.00</text>
<text class="ax" x="1145" y="76.0">104000.00</text>
<text class="ax" x="1145" y="130.0">102000.00</text>
<text class="ax" x="1145" y="183.0">100000.00</text>
<text class="ax" x="1145" y="236.0">98000.00</text>
<text class="ax" x="1145" y="289.0">96000.00</text>
<text class="ax" x="1145" y="342.0">94000.00</text>
<text class="ax" x="1145" y="396.0">92000.00</text>
<text class="ax" x="1145" y="449.0">90000.00</text>
<text class="ax" x="1145" y="481.0">8.00k</text>
<text class="ax" x="1145" y="508.0">6.00k</text>
<text class="ax" x="1145" y="536.0">4.00k</text>
<text class="ax" x="1145" y="563.0">2.00k</text>
<text class="ax" x="1145" y="609.0">2000.00</text>
<text class="ax" x="1145" y="648.0">1000.00</text>
<text class="ax" x="1145" y="686.0">0.00</text>
<rect x="1107" y="93" width="69" height="19.7" fill="#2aa788"/>
<path d="M1107 102.5h6" stroke="#fff" stroke-width="1.2"/>
<text x="1145" y="107.1" font-size="12" font-weight="bold" fill="#fff" text-anchor="middle">102834.53</text>
<rect x="1107" y="559.2" width="69" height="19.6" fill="#d8890f"/>
<path d="M1107 569.5h6" stroke="#fff" stroke-width="1.2"/>
<clipPath id="vb"><rect x="1107" y="559.2" width="69" height="19.6"/></clipPath>
<text x="1145" y="563" font-size="12" fill="#e9bd7c" text-anchor="middle" clip-path="url(#vb)">2.00k</text>
<text x="1145" y="573.3" font-size="12" fill="#fff" text-anchor="middle">1.3k</text>
<text x="938.6" y="27" font-size="12" fill="#dfe1e6">105819.45</text>
<path d="M1000.5 24.6h7M1005 22.3l2.6 2.3l-2.6 2.3" stroke="#c8cacf" stroke-width="1" fill="none"/>
<text x="557" y="706.5" font-size="21.5" font-weight="500" fill="#ea362b">2小时</text>
</svg></body></html>
